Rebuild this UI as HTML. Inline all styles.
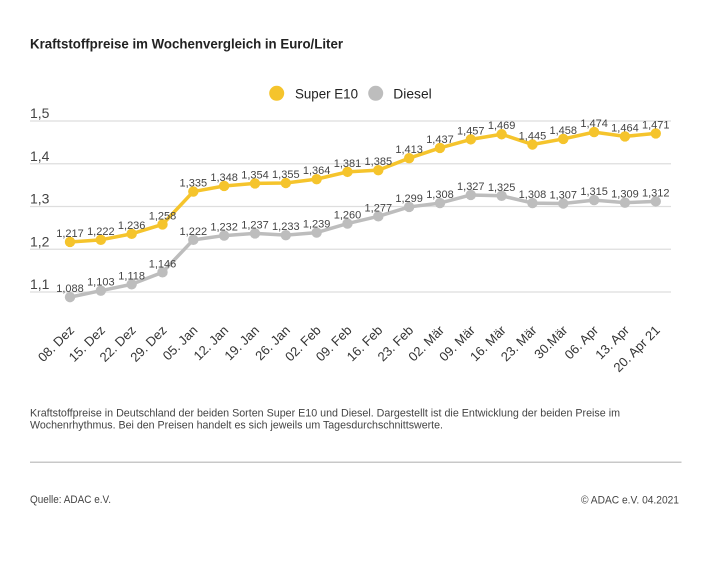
<!DOCTYPE html>
<html><head><meta charset="utf-8"><style>
html,body{margin:0;padding:0;background:#fff;}
svg{display:block;font-family:"Liberation Sans",sans-serif;}
</style></head><body>
<svg width="710" height="565" viewBox="0 0 710 565" xmlns="http://www.w3.org/2000/svg">
<rect width="710" height="565" fill="#fff"/>
<text x="30" y="48.5" font-size="14" font-weight="bold" fill="#222" textLength="313" lengthAdjust="spacingAndGlyphs">Kraftstoffpreise im Wochenvergleich in Euro/Liter</text>

<circle cx="276.7" cy="93.3" r="7.5" fill="#F5C42C"/>
<text x="295" y="98.5" font-size="14" fill="#222" textLength="63" lengthAdjust="spacingAndGlyphs">Super E10</text>
<circle cx="375.7" cy="93.3" r="7.5" fill="#BDBDBD"/>
<text x="393.3" y="98.5" font-size="14" fill="#222" textLength="38.4" lengthAdjust="spacingAndGlyphs">Diesel</text>

<g stroke="#DEDEDE" stroke-width="1.3">
<line x1="30" y1="121" x2="671" y2="121"/>
<line x1="30" y1="163.75" x2="671" y2="163.75"/>
<line x1="30" y1="206.5" x2="671" y2="206.5"/>
<line x1="30" y1="249.25" x2="671" y2="249.25"/>
<line x1="30" y1="292" x2="671" y2="292"/>
</g>
<g font-size="14" fill="#444">
<text x="30" y="118">1,5</text>
<text x="30" y="160.75">1,4</text>
<text x="30" y="203.5">1,3</text>
<text x="30" y="246.25">1,2</text>
<text x="30" y="289">1,1</text>
</g>

<polyline fill="none" stroke="#BDBDBD" stroke-width="3.5" stroke-linejoin="round" points="70,297.13 100.83,290.72 131.66,284.30 162.49,272.33 193.32,239.84 224.15,235.57 254.98,233.43 285.81,235.14 316.64,232.58 347.47,223.60 378.3,216.33 409.13,206.93 439.96,203.08 470.79,194.96 501.62,195.81 532.45,203.08 563.28,203.51 594.11,200.09 624.94,202.65 655.77,201.37"/>
<g fill="#BDBDBD">
<circle cx="70" cy="297.13" r="5.2"/><circle cx="100.83" cy="290.72" r="5.2"/><circle cx="131.66" cy="284.30" r="5.2"/><circle cx="162.49" cy="272.33" r="5.2"/><circle cx="193.32" cy="239.84" r="5.2"/><circle cx="224.15" cy="235.57" r="5.2"/><circle cx="254.98" cy="233.43" r="5.2"/><circle cx="285.81" cy="235.14" r="5.2"/><circle cx="316.64" cy="232.58" r="5.2"/><circle cx="347.47" cy="223.60" r="5.2"/><circle cx="378.3" cy="216.33" r="5.2"/><circle cx="409.13" cy="206.93" r="5.2"/><circle cx="439.96" cy="203.08" r="5.2"/><circle cx="470.79" cy="194.96" r="5.2"/><circle cx="501.62" cy="195.81" r="5.2"/><circle cx="532.45" cy="203.08" r="5.2"/><circle cx="563.28" cy="203.51" r="5.2"/><circle cx="594.11" cy="200.09" r="5.2"/><circle cx="624.94" cy="202.65" r="5.2"/><circle cx="655.77" cy="201.37" r="5.2"/>
</g>

<polyline fill="none" stroke="#F5C42C" stroke-width="3.5" stroke-linejoin="round" points="70,241.98 100.83,239.84 131.66,233.86 162.49,224.45 193.32,191.54 224.15,185.98 254.98,183.41 285.81,182.99 316.64,179.14 347.47,171.87 378.3,170.16 409.13,158.19 439.96,147.93 470.79,139.38 501.62,134.25 532.45,144.51 563.28,138.95 594.11,132.11 624.94,136.39 655.77,133.40"/>
<g fill="#F5C42C">
<circle cx="70" cy="241.98" r="5.2"/><circle cx="100.83" cy="239.84" r="5.2"/><circle cx="131.66" cy="233.86" r="5.2"/><circle cx="162.49" cy="224.45" r="5.2"/><circle cx="193.32" cy="191.54" r="5.2"/><circle cx="224.15" cy="185.98" r="5.2"/><circle cx="254.98" cy="183.41" r="5.2"/><circle cx="285.81" cy="182.99" r="5.2"/><circle cx="316.64" cy="179.14" r="5.2"/><circle cx="347.47" cy="171.87" r="5.2"/><circle cx="378.3" cy="170.16" r="5.2"/><circle cx="409.13" cy="158.19" r="5.2"/><circle cx="439.96" cy="147.93" r="5.2"/><circle cx="470.79" cy="139.38" r="5.2"/><circle cx="501.62" cy="134.25" r="5.2"/><circle cx="532.45" cy="144.51" r="5.2"/><circle cx="563.28" cy="138.95" r="5.2"/><circle cx="594.11" cy="132.11" r="5.2"/><circle cx="624.94" cy="136.39" r="5.2"/><circle cx="655.77" cy="133.40" r="5.2"/>
</g>

<g font-size="11" fill="#444" text-anchor="middle">
<text x="70" y="237">1,217</text><text x="100.83" y="234.8">1,222</text><text x="131.66" y="228.9">1,236</text><text x="162.49" y="219.5">1,258</text><text x="193.32" y="186.5">1,335</text><text x="224.15" y="181">1,348</text><text x="254.98" y="178.4">1,354</text><text x="285.81" y="178">1,355</text><text x="316.64" y="174.1">1,364</text><text x="347.47" y="166.9">1,381</text><text x="378.3" y="165.2">1,385</text><text x="409.13" y="153.2">1,413</text><text x="439.96" y="142.9">1,437</text><text x="470.79" y="134.4">1,457</text><text x="501.62" y="129.2">1,469</text><text x="532.45" y="139.5">1,445</text><text x="563.28" y="134">1,458</text><text x="594.11" y="127.1">1,474</text><text x="624.94" y="131.4">1,464</text><text x="655.77" y="128.4">1,471</text>
<text x="70" y="292.1">1,088</text><text x="100.83" y="285.7">1,103</text><text x="131.66" y="279.3">1,118</text><text x="162.49" y="267.3">1,146</text><text x="193.32" y="234.8">1,222</text><text x="224.15" y="230.6">1,232</text><text x="254.98" y="228.4">1,237</text><text x="285.81" y="230.1">1,233</text><text x="316.64" y="227.6">1,239</text><text x="347.47" y="218.6">1,260</text><text x="378.3" y="211.3">1,277</text><text x="409.13" y="201.9">1,299</text><text x="439.96" y="198.1">1,308</text><text x="470.79" y="190">1,327</text><text x="501.62" y="190.8">1,325</text><text x="532.45" y="198.1">1,308</text><text x="563.28" y="198.5">1,307</text><text x="594.11" y="195.1">1,315</text><text x="624.94" y="197.6">1,309</text><text x="655.77" y="196.4">1,312</text>
</g>

<g font-size="13" fill="#333" text-anchor="end">
<text transform="translate(75,331) rotate(-45)">08. Dez</text>
<text transform="translate(105.83,331) rotate(-45)">15. Dez</text>
<text transform="translate(136.66,331) rotate(-45)">22. Dez</text>
<text transform="translate(167.49,331) rotate(-45)">29. Dez</text>
<text transform="translate(198.32,331) rotate(-45)">05. Jan</text>
<text transform="translate(229.15,331) rotate(-45)">12. Jan</text>
<text transform="translate(259.98,331) rotate(-45)">19. Jan</text>
<text transform="translate(290.81,331) rotate(-45)">26. Jan</text>
<text transform="translate(321.64,331) rotate(-45)">02. Feb</text>
<text transform="translate(352.47,331) rotate(-45)">09. Feb</text>
<text transform="translate(383.3,331) rotate(-45)">16. Feb</text>
<text transform="translate(414.13,331) rotate(-45)">23. Feb</text>
<text transform="translate(444.96,331) rotate(-45)">02. Mär</text>
<text transform="translate(475.79,331) rotate(-45)">09. Mär</text>
<text transform="translate(506.62,331) rotate(-45)">16. Mär</text>
<text transform="translate(537.45,331) rotate(-45)">23. Mär</text>
<text transform="translate(568.28,331) rotate(-45)">30.Mär</text>
<text transform="translate(599.11,331) rotate(-45)">06. Apr</text>
<text transform="translate(629.94,331) rotate(-45)">13. Apr</text>
<text transform="translate(660.77,331) rotate(-45)">20. Apr 21</text>
</g>

<g font-size="10.7" fill="#444">
<text x="30" y="416.7" textLength="590" lengthAdjust="spacingAndGlyphs">Kraftstoffpreise in Deutschland der beiden Sorten Super E10 und Diesel. Dargestellt ist die Entwicklung der beiden Preise im</text>
<text x="30" y="428.7" textLength="413" lengthAdjust="spacingAndGlyphs">Wochenrhythmus. Bei den Preisen handelt es sich jeweils um Tagesdurchschnittswerte.</text>
</g>
<line x1="30" y1="462.3" x2="681.5" y2="462.3" stroke="#C8C8C8" stroke-width="1.5"/>
<g font-size="10.7" fill="#444">
<text x="30" y="503" textLength="81" lengthAdjust="spacingAndGlyphs">Quelle: ADAC e.V.</text>
<text x="581" y="503.3" textLength="98" lengthAdjust="spacingAndGlyphs">© ADAC e.V. 04.2021</text>
</g>
</svg>
</body></html>
